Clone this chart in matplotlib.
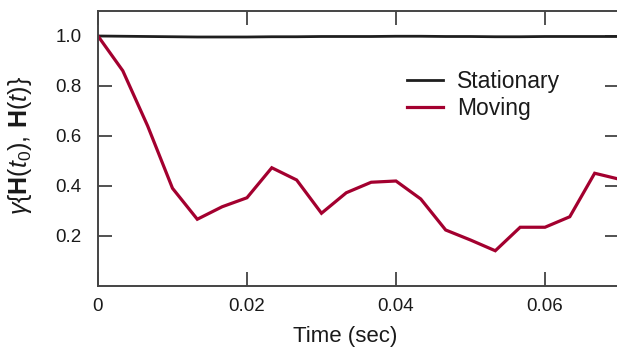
import matplotlib
matplotlib.use("Agg")
import matplotlib.pyplot as plt

plt.rcParams["font.family"] = ["Liberation Sans", "DejaVu Sans"]
plt.rcParams["mathtext.fontset"] = "custom"
plt.rcParams["mathtext.rm"] = "Liberation Sans"
plt.rcParams["mathtext.it"] = "Liberation Sans:italic"
plt.rcParams["mathtext.bf"] = "Liberation Sans:bold"

# Sample times (sec)
time_sec = [0.0, 0.00333, 0.00667, 0.01, 0.01333, 0.01667, 0.02, 0.02333,
            0.02667, 0.03, 0.03333, 0.03667, 0.04, 0.04333, 0.04667, 0.05,
            0.05333, 0.05667, 0.06, 0.06333, 0.06667, 0.07]

# Correlation with the initial channel
stationary = [1.0, 0.999, 0.998, 0.997, 0.996, 0.996, 0.996, 0.997, 0.997,
              0.998, 0.998, 0.998, 0.999, 0.999, 0.998, 0.998, 0.997, 0.997,
              0.998, 0.998, 0.998, 0.998]
moving = [1.0, 0.861, 0.64, 0.391, 0.267, 0.317, 0.353, 0.473, 0.424, 0.291,
          0.373, 0.415, 0.42, 0.348, 0.224, 0.184, 0.141, 0.235, 0.235, 0.277,
          0.451, 0.427]

x_ticks = [0, 0.02, 0.04, 0.06]
x_tick_labels = ["0", "0.02", "0.04", "0.06"]
y_ticks = [0.2, 0.4, 0.6, 0.8, 1.0]
y_tick_labels = ["0.2", "0.4", "0.6", "0.8", "1.0"]

fig = plt.figure(figsize=(6.17, 3.47), dpi=100)
ax = fig.add_axes([0.1588, 0.1758, 0.8452, 0.7925])

ax.plot(time_sec, stationary, color="#1e1e1e", lw=2.0, label="Stationary",
        solid_joinstyle="miter")
ax.plot(time_sec, moving, color="#a3002f", lw=2.3, label="Moving",
        solid_joinstyle="miter")

ax.set_xlim(0, 0.07)
ax.set_ylim(0, 1.1)
ax.set_xticks(x_ticks)
ax.set_xticklabels(x_tick_labels)
ax.set_yticks(y_ticks)
ax.set_yticklabels(y_tick_labels)

ax.tick_params(axis="both", direction="in", length=10, width=1.2,
               color="#333333", labelsize=13.5, top=True, right=True,
               labelcolor="#1a1a1a")
ax.tick_params(axis="y", pad=12)
ax.tick_params(axis="x", pad=9)
for side in ["left", "bottom", "top", "right"]:
    ax.spines[side].set_color("#444444")
    ax.spines[side].set_linewidth(1.4)

ax.set_xlabel("Time (sec)", fontsize=16, color="#1a1a1a")
ax.xaxis.set_label_coords(0.474, -0.145)
ax.set_ylabel(r"$\gamma\{\mathbf{H}(t_0),\,\mathbf{H}(t)\}$", fontsize=18,
              color="#1a1a1a")
ax.yaxis.set_label_coords(-0.122, 0.51)

ax.legend(loc="center left", bbox_to_anchor=(0.593, 0.694), frameon=False,
          fontsize=16.5, handlelength=1.55, handletextpad=0.62,
          labelspacing=0.15, borderpad=0, borderaxespad=0,
          labelcolor="#1a1a1a")

fig.savefig("out.png", dpi=100)
